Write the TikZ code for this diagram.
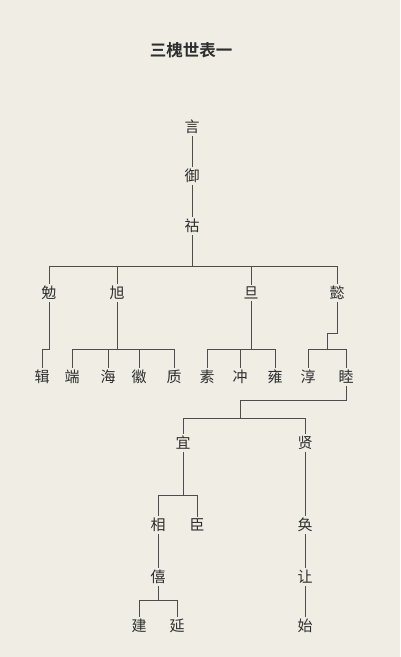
\documentclass[tikz,border=0pt]{standalone}
\usepackage{fontspec}
\newfontfamily\cjk[BoldFont={Noto Sans CJK SC Bold}]{Noto Sans CJK SC}
\usepackage{tikz}
\definecolor{paper}{rgb}{0.94,0.93,0.90}
\definecolor{ink}{rgb}{0.18,0.18,0.18}
\tikzset{
  person/.style={font=\cjk\fontsize{15}{15}\selectfont, text=ink, inner sep=2pt},
  link/.style={draw=ink!85, line width=0.75pt}
}

\begin{document}
\begin{tikzpicture}[x=1pt,y=-1pt]
\fill[paper] (0,0) rectangle (400,657);
\useasboundingbox (0,0) rectangle (400,657);

\node[font=\cjk\bfseries\fontsize{16.5}{16.5}\selectfont, text=ink] (title) at (191,50) {三槐世表一};

% generations
\node[person] (yan) at (192,127) {言};
\node[person] (yu) at (192,176) {御};
\node[person] (hu) at (192,226) {祜};

\node[person] (mian) at (49,293) {勉};
\node[person] (xu) at (117,293) {旭};
\node[person] (dan) at (251,293) {旦};
\node[person] (yi) at (337,293) {懿};

\node[person] (ji) at (42,377) {辑};
\node[person] (duan) at (72,377) {端};
\node[person] (hai) at (108,377) {海};
\node[person] (hui) at (139,377) {徽};
\node[person] (zhi) at (174,377) {质};
\node[person] (su) at (207,377) {素};
\node[person] (chong) at (240,377) {冲};
\node[person] (yong) at (275,377) {雍};
\node[person] (chun) at (308,377) {淳};
\node[person] (mu) at (346,377) {睦};

\node[person] (yii) at (183,443) {宜};
\node[person] (xian) at (305,443) {贤};

\node[person] (xiang) at (158,525) {相};
\node[person] (chen) at (197,525) {臣};
\node[person] (huan) at (305,525) {奂};

\node[person] (xi) at (158,577) {僖};
\node[person] (rang) at (305,577) {让};

\node[person] (jian) at (139,626) {建};
\node[person] (yan2) at (177,626) {延};
\node[person] (shi) at (305,626) {始};

% lines
\draw[link] (yan) -- (yu);
\draw[link] (yu) -- (hu);
\foreach \c in {mian,xu,dan,yi}
  \draw[link] (hu) -- (hu |- 0,266) -| (\c);
\draw[link] (mian) -- (mian |- 0,349) -| (ji);
\foreach \c in {duan,hai,hui,zhi}
  \draw[link] (xu) -- (xu |- 0,349) -| (\c);
\foreach \c in {su,chong,yong}
  \draw[link] (dan) -- (dan |- 0,349) -| (\c);
\foreach \c in {chun,mu}
  \draw[link] (yi) -- (yi |- 0,333) -| (327,349) -| (\c);
\foreach \c in {yii,xian}
  \draw[link] (mu) -- (mu |- 0,400) -| (240,418) -| (\c);
\foreach \c in {xiang,chen}
  \draw[link] (yii) -- (yii |- 0,495) -| (\c);
\draw[link] (xian) -- (huan);
\draw[link] (huan) -- (rang);
\draw[link] (rang) -- (shi);
\draw[link] (xiang) -- (xi);
\foreach \c in {jian,yan2}
  \draw[link] (xi) -- (xi |- 0,600) -| (\c);
\end{tikzpicture}
\end{document}
